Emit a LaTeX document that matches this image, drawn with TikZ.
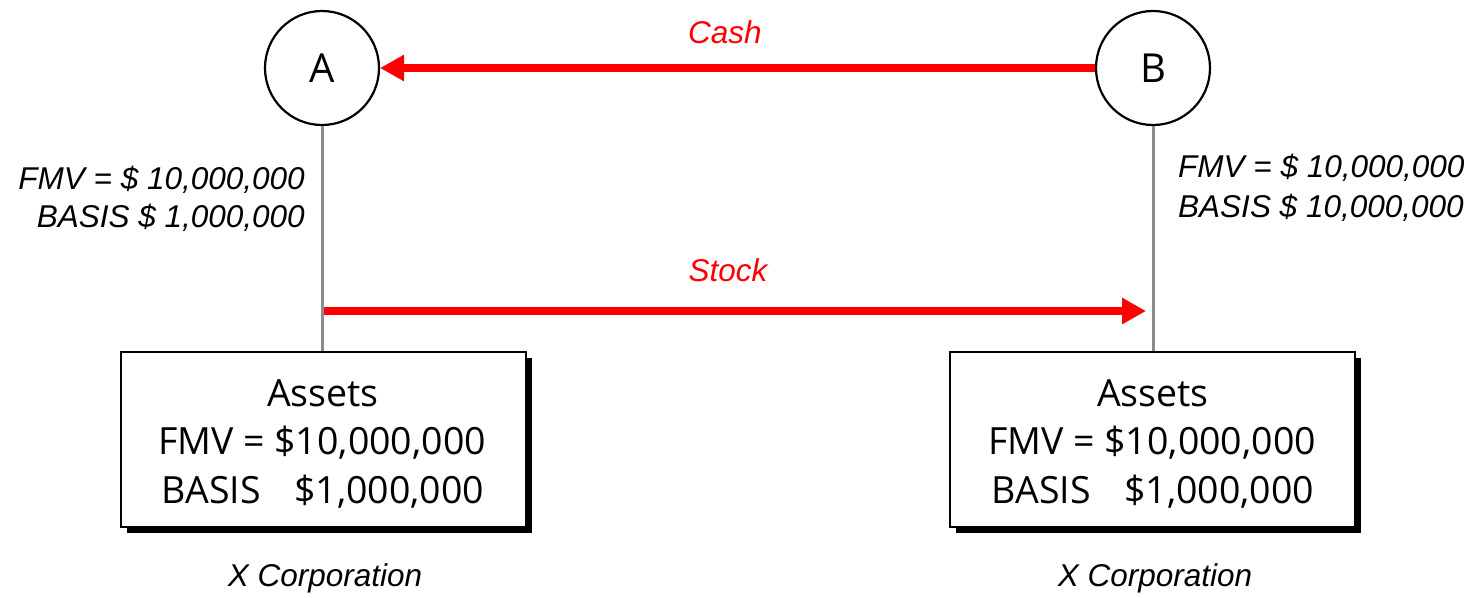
\documentclass[tikz,border=0pt]{standalone}
\usepackage{fontspec}
\setmainfont{Liberation Sans}
\newfontfamily\boxfont{Open Sans}
\usetikzlibrary{arrows.meta}
\definecolor{arrred}{RGB}{255,0,0}
\definecolor{linegray}{RGB}{140,140,140}
\begin{document}
\begin{tikzpicture}[x=1pt,y=-1pt,
  party/.style={circle,draw=black,line width=2.2pt,minimum size=114pt,inner sep=0pt,fill=white,font=\boxfont\fontsize{40}{48}\selectfont},
  assetbox/.style={draw=black,line width=2pt,fill=white,minimum width=405pt,minimum height=175pt,inner sep=0pt},
  shadowbox/.style={fill=black,minimum width=405pt,minimum height=175pt,inner sep=0pt},
  boxtext/.style={font=\boxfont\fontsize{37.5}{44}\selectfont},
  lbl/.style={font=\itshape\fontsize{31.5}{38}\selectfont,inner sep=0pt},
  redlbl/.style={lbl,text=arrred},
  redarrow/.style={draw=arrred,line width=8pt,-{Triangle[length=24pt,width=25pt]}},
  stem/.style={draw=linegray,line width=3pt}
]
\useasboundingbox (0,0) rectangle (1472,597);
% circles
\node[party] (A) at (322,68) {A};
\node[party] (B) at (1153,68) {B};
% boxes with shadows
\node[shadowbox] (shA) at (329.5,445.5) {};
\node[assetbox] (boxA) at (323.5,439.5) {};
\node[shadowbox] (shB) at (1158.5,445.5) {};
\node[assetbox] (boxB) at (1152.5,439.5) {};
% stems
\draw[stem] (A.south) -- (A.south |- boxA.north);
\draw[stem] (B.south) -- (B.south |- boxB.north);
% cash arrow
\draw[redarrow] (B.west) -- (A.east);
\node[redlbl] (cash) at (725,32) {Cash};
% stock arrow
\coordinate (sA) at (322,311);
\coordinate (sB) at (1153,311);
\draw[redarrow,shorten <=1.5pt,shorten >=7pt] (sA) -- (sB);
\node[redlbl] (stock) at (728,270) {Stock};
% box texts
\node[boxtext] (aA) at (323,393) {Assets};
\node[boxtext] (fA) at (322,443) {FMV = \$10,000,000};
\node[boxtext] (bA) at (323,492) {BASIS\hspace{0.9em}\$1,000,000};
\node[boxtext] (aB) at (1153,393) {Assets};
\node[boxtext] (fB) at (1152,443) {FMV = \$10,000,000};
\node[boxtext] (bB) at (1153,492) {BASIS\hspace{0.9em}\$1,000,000};
% italic labels
\node[lbl,anchor=east] (lA1) at (305,180) {FMV = \$ 10,000,000};
\node[lbl,anchor=east] (lA2) at (305,218) {BASIS \$ 1,000,000};
\node[lbl,anchor=west] (lB1) at (1178,168) {FMV = \$ 10,000,000};
\node[lbl,anchor=west] (lB2) at (1178,208) {BASIS \$ 10,000,000};
\node[lbl] (xA) at (325,578) {X Corporation};
\node[lbl] (xB) at (1155,578) {X Corporation};
\end{tikzpicture}
\end{document}
